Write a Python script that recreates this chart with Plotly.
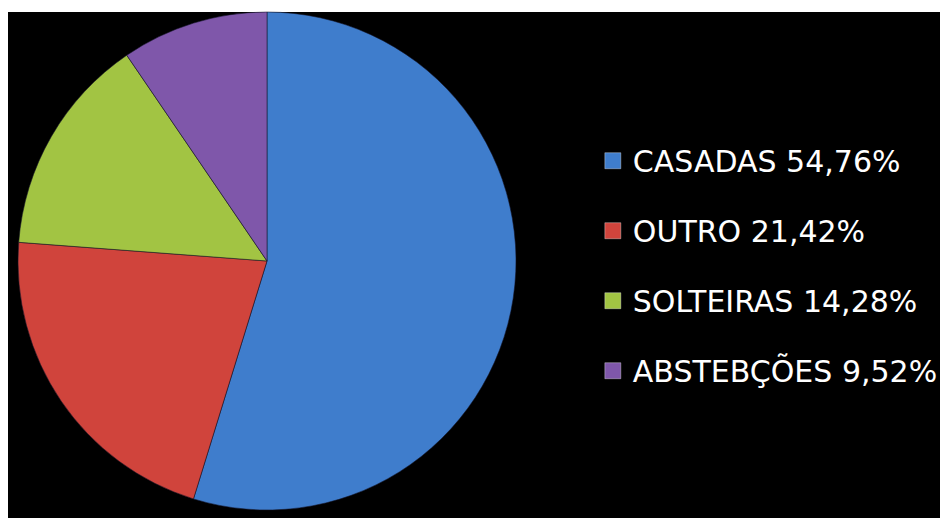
import plotly.graph_objects as go

# slice data (percentages as shown in the chart)
labels = ['CASADAS', 'OUTRO', 'SOLTEIRAS', 'ABSTEBÇÕES']
values = [54.76, 21.42, 14.28, 9.52]
colors = ['#3f7dcc', '#d0443c', '#a2c443', '#7f57aa']

legend_text = [f"{lab} {str(v).replace('.', ',')}%" for lab, v in zip(labels, values)]

fig = go.Figure()

fig.add_trace(go.Pie(
    labels=labels,
    values=values,
    sort=False,
    direction='clockwise',
    rotation=0,
    textinfo='none',
    hoverinfo='label+percent',
    marker=dict(colors=colors, line=dict(color='rgba(20,20,40,0.55)', width=1)),
    domain=dict(x=[18 / 944, 516 / 944], y=[1 - 510 / 518, 1 - 12 / 518]),
    showlegend=False,
))

# legend entries (one group each so the gap can be set)
for i, (txt, col) in enumerate(zip(legend_text, colors)):
    fig.add_trace(go.Scatter(
        x=[None], y=[None], mode='markers', name=txt,
        legendgroup=f'g{i}',
        marker=dict(symbol='square', size=16, color=col,
                    line=dict(color='rgba(255,255,255,0.35)', width=1)),
    ))

# black panel on white page
fig.add_shape(type='rect', xref='paper', yref='paper',
              x0=8 / 944, x1=940 / 944, y0=-0.02, y1=1 - 12 / 518,
              fillcolor='black', line=dict(width=0), layer='below')

fig.update_xaxes(visible=False)
fig.update_yaxes(visible=False)
fig.update_layout(
    width=944, height=518,
    margin=dict(l=0, r=0, t=0, b=0),
    paper_bgcolor='white',
    plot_bgcolor='rgba(0,0,0,0)',
    font=dict(family='DejaVu Sans, sans-serif', color='white'),
    legend=dict(
        x=0.628, y=0.487, xanchor='left', yanchor='middle',
        font=dict(size=30, color='white', family='DejaVu Sans, sans-serif'),
        traceorder='grouped', tracegroupgap=28,
        bgcolor='rgba(0,0,0,0)', itemwidth=30,
    ),
)

fig.write_html("out.html", config={'displayModeBar': False},
               post_script="document.body.style.margin='0';")
